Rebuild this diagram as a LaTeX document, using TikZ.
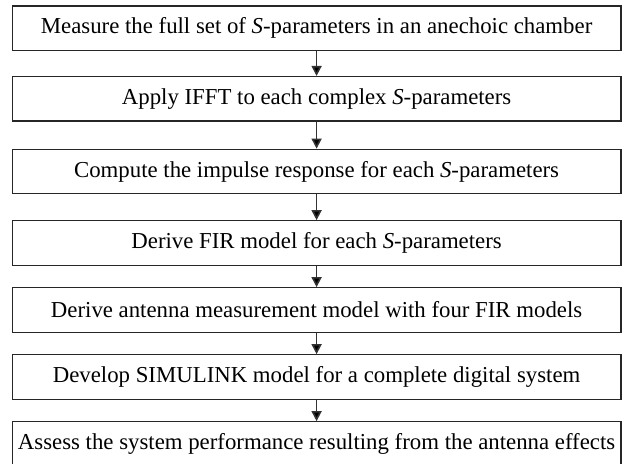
\documentclass[tikz,border=0pt]{standalone}
\usepackage{fontspec}
\setmainfont{Liberation Serif}
\usetikzlibrary{arrows.meta}
\begin{document}
\begin{tikzpicture}[x=1pt,y=1pt,
  stepbox/.style={draw=black!85, line width=1.2pt, minimum width=608.7pt, minimum height=44.5pt, inner sep=0pt, font=\fontsize{22.8}{26}\selectfont, fill=white},
  flow/.style={draw=black!80, line width=1.6pt, -{Triangle[width=10pt,length=10pt,fill=black]}}]
\useasboundingbox (0,0) rectangle (625,464);
\node[stepbox] (b1) at (316.6,435.8) {Measure the full set of \textit{S}-parameters in an anechoic chamber};
\node[stepbox] (b2) at (316.6,365.2) {Apply IFFT to each complex \textit{S}-parameters};
\node[stepbox] (b3) at (316.6,292.5) {Compute the impulse response for each \textit{S}-parameters};
\node[stepbox] (b4) at (316.6,221) {Derive FIR model for each \textit{S}-parameters};
\node[stepbox] (b5) at (316.6,154) {Derive antenna measurement model with four FIR models};
\node[stepbox] (b6) at (316.6,87) {Develop SIMULINK model for a complete digital system};
\node[stepbox] (b7) at (316.6,20) {Assess the system performance resulting from the antenna effects};
\draw[flow] (b1) -- (b2);
\draw[flow] (b2) -- (b3);
\draw[flow] (b3) -- (b4);
\draw[flow] (b4) -- (b5);
\draw[flow] (b5) -- (b6);
\draw[flow] (b6) -- (b7);
\end{tikzpicture}
\end{document}
